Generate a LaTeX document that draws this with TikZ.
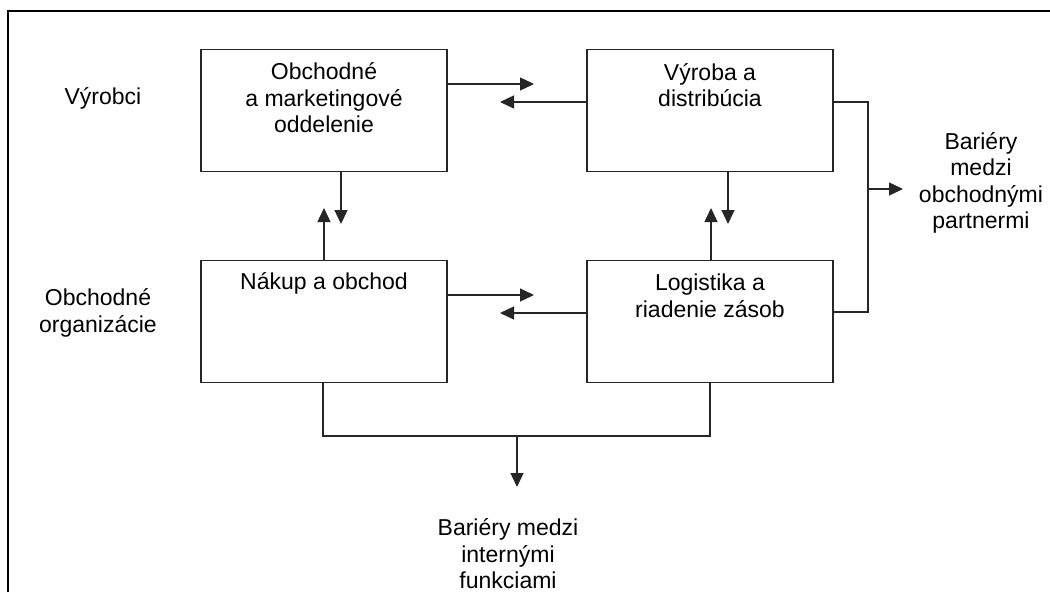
\documentclass[tikz,border=0pt]{standalone}
\usepackage{fontspec}
\setmainfont{Liberation Sans}
\usetikzlibrary{arrows.meta}
\begin{document}
\begin{tikzpicture}[x=1pt,y=-1pt,
  txt/.style={align=center,inner sep=0pt,font=\fontsize{23}{26.5}\selectfont},
  unit/.style={draw=black!85,line width=1.4pt,minimum width=246pt,minimum height=122pt,inner sep=0pt},
  link/.style={draw=black!85,line width=1.4pt},
  arr/.style={link,-{Triangle[length=14pt,width=13pt]}}]
\useasboundingbox (0,0) rectangle (1050,592);
% frame: left and top edges
\draw[line width=2.8pt] (8,592) -- (8,11) -- (1050,11);

% the four units
\node[unit] (obch) at (324,110.5) {};
\node[unit] (vyr)  at (710,110.5) {};
\node[unit] (nak)  at (324,321.5) {};
\node[unit] (log)  at (710,321.5) {};

% unit texts
\node[txt] (tobch) at (324,98) {Obchodné\\a marketingové\\oddelenie};
\node[txt] (tvyr)  at (710,85) {Výroba a\\distribúcia};
\node[txt] (tnak)  at (324,283) {Nákup a obchod};
\node[txt] (tlog)  at (710,296) {Logistika a\\riadenie zásob};

% row labels
\node[txt] (lvyr) at (103,98) {Výrobci};
\node[txt] (lobch) at (98,313) {Obchodné\\organizácie};

% barrier labels
\node[txt] (bpart) at (981,183) {Bariéry\\medzi\\obchodnými\\partnermi};
\node[txt] (bint) at (508,554) {Bariéry medzi\\internými\\funkciami};

% tips of the exchange arrows
\coordinate (t1) at (534,84);
\coordinate (t2) at (500,102);
\coordinate (t3) at (534,295);
\coordinate (t4) at (500,313);
\coordinate (t5) at (341,224);
\coordinate (t6) at (324,208);
\coordinate (t7) at (728,224);
\coordinate (t8) at (711,208);

% horizontal exchanges
\draw[arr] (obch.east |- t1) -- (t1);
\draw[arr] (vyr.west |- t2) -- (t2);
\draw[arr] (nak.east |- t3) -- (t3);
\draw[arr] (log.west |- t4) -- (t4);

% vertical exchanges
\draw[arr] (obch.south -| t5) -- (t5);
\draw[arr] (nak.north -| t6) -- (t6);
\draw[arr] (vyr.south -| t7) -- (t7);
\draw[arr] (log.north -| t8) -- (t8);

% bracket between trading partners
\coordinate (r1) at (868,102);
\coordinate (r2) at (868,312);
\coordinate (rm) at (868,189);
\coordinate (rt) at (903,189);
\draw[link] (vyr.east |- r1) -- (r1) -- (r2) -- (log.east |- r2);
\draw[arr] (rm) -- (rt);

% bracket between internal functions
\coordinate (b1) at (323,436);
\coordinate (b2) at (710,436);
\coordinate (bm) at (517,436);
\coordinate (bt) at (517,487);
\draw[link] (nak.south -| b1) -- (b1) -- (b2) -- (log.south -| b2);
\draw[arr] (bm) -- (bt);
\end{tikzpicture}
\end{document}
